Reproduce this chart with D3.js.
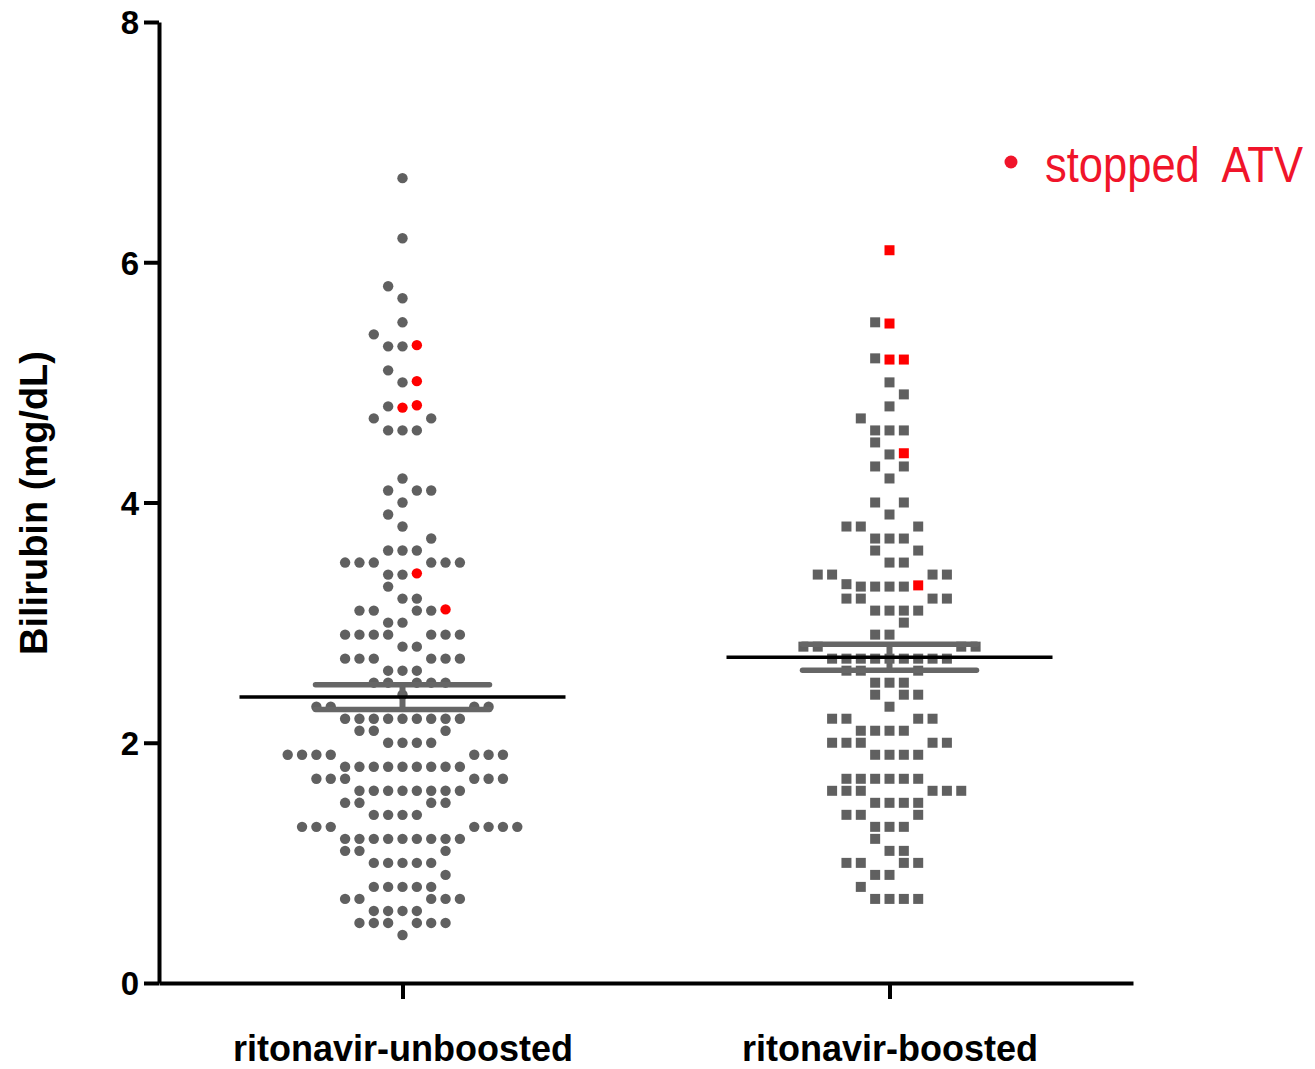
<!doctype HTML>
<html>
<head>
    <style>
        body { margin: 0; background: #fff; }
        text { font-family: "Liberation Sans", Arial, sans-serif; }
    </style>
    <script src="https://d3js.org/d3.v7.min.js"></script>
</head>
<body>
<script>
    // groups and bilirubin readings (mg/dL)
    var groups = ["ritonavir-unboosted", "ritonavir-boosted"];

    var unboostedValues = [
        0.4,
        0.5, 0.5, 0.5, 0.5, 0.5, 0.5,
        0.6, 0.6, 0.6, 0.6,
        0.7, 0.7, 0.7, 0.7, 0.7,
        0.8, 0.8, 0.8, 0.8, 0.8,
        0.9,
        1.0, 1.0, 1.0, 1.0, 1.0,
        1.1, 1.1, 1.1,
        1.2, 1.2, 1.2, 1.2, 1.2, 1.2, 1.2, 1.2, 1.2,
        1.3, 1.3, 1.3, 1.3, 1.3, 1.3, 1.3,
        1.4, 1.4, 1.4, 1.4,
        1.5, 1.5, 1.5, 1.5,
        1.6, 1.6, 1.6, 1.6, 1.6, 1.6, 1.6, 1.6,
        1.7, 1.7, 1.7, 1.7, 1.7, 1.7,
        1.8, 1.8, 1.8, 1.8, 1.8, 1.8, 1.8, 1.8, 1.8,
        1.9, 1.9, 1.9, 1.9, 1.9, 1.9, 1.9,
        2.0, 2.0, 2.0, 2.0,
        2.1, 2.1, 2.1,
        2.2, 2.2, 2.2, 2.2, 2.2, 2.2, 2.2, 2.2, 2.2,
        2.3, 2.3, 2.3, 2.3,
        2.4,
        2.5, 2.5, 2.5, 2.5, 2.5,
        2.6, 2.6, 2.6,
        2.7, 2.7, 2.7, 2.7, 2.7, 2.7,
        2.8, 2.8,
        2.9, 2.9, 2.9, 2.9, 2.9, 2.9, 2.9,
        3.0, 3.0,
        3.1, 3.1, 3.1, 3.1,
        3.2, 3.2,
        3.3,
        3.4, 3.4,
        3.5, 3.5, 3.5, 3.5, 3.5, 3.5,
        3.6, 3.6, 3.6,
        3.7, 3.8, 3.9, 4.0,
        4.1, 4.1, 4.1,
        4.2,
        4.6, 4.6, 4.6,
        4.7, 4.7,
        4.8,
        5.0, 5.1,
        5.3, 5.3,
        5.4, 5.5, 5.7, 5.8, 6.2, 6.7
    ];
    var unboostedStopped = [3.11, 3.41, 4.79, 4.81, 5.01, 5.31];

    var boostedValues = [
        0.7, 0.7, 0.7, 0.7,
        0.8,
        0.9, 0.9,
        1.0, 1.0, 1.0, 1.0,
        1.1, 1.1,
        1.2,
        1.3, 1.3, 1.3,
        1.4, 1.4, 1.4,
        1.5, 1.5, 1.5, 1.5,
        1.6, 1.6, 1.6, 1.6, 1.6, 1.6,
        1.7, 1.7, 1.7, 1.7, 1.7, 1.7,
        1.9, 1.9, 1.9, 1.9,
        2.0, 2.0, 2.0, 2.0, 2.0,
        2.1, 2.1, 2.1, 2.1,
        2.2, 2.2, 2.2, 2.2,
        2.3,
        2.4, 2.4, 2.4,
        2.5, 2.5, 2.5,
        2.6, 2.6, 2.6,
        2.7, 2.7, 2.7, 2.7, 2.7, 2.7, 2.7, 2.7, 2.7,
        2.8, 2.8, 2.8, 2.8,
        2.9, 2.9,
        3.0,
        3.1, 3.1, 3.1, 3.1,
        3.2, 3.2, 3.2, 3.2,
        3.3, 3.3, 3.3, 3.3, 3.32,
        3.4, 3.4, 3.4, 3.4,
        3.5, 3.5,
        3.6, 3.6,
        3.7, 3.7, 3.7,
        3.8, 3.8, 3.8,
        3.9,
        4.0, 4.0,
        4.2,
        4.3, 4.3,
        4.4, 4.5,
        4.6, 4.6, 4.6,
        4.7, 4.8, 4.9, 5.0,
        5.2, 5.5
    ];
    var boostedStopped = [3.31, 4.41, 5.19, 5.19, 5.49, 6.1];

    var yTicks = [0, 2, 4, 6, 8];
    var legendLabel = "stopped  ATV";

    var canvasWidth = 1315;
    var canvasHeight = 1069;
    var gray = "#606060";
    var red = "#ff0000";
    var colStep = 14.35;

    var svg = d3.select("body").append("svg")
        .attr("width", canvasWidth)
        .attr("height", canvasHeight);

    var xScale = d3.scalePoint().domain(groups).range([159, 1133]).padding(0.5);
    var yScale = d3.scaleLinear().domain([0, 8]).range([983, 22]);

    // Prism-like column scatter: rows grouped in 0.2 bins, points fanned out from the centre
    function layout(values, stopped, group) {
        var pts = values.map(function(v) { return {v: v, stopped: false}; })
            .concat(stopped.map(function(v) { return {v: v, stopped: true}; }));
        pts.sort(function(a, b) { return a.v - b.v; });
        var out = [];
        var i = 0, bin = 0;
        while (i < pts.length) {
            var start = Math.round(pts[i].v * 10);
            var members = [];
            while (i < pts.length && Math.round(pts[i].v * 10) < start + 2) {
                members.push(pts[i]);
                i++;
            }
            var dir = bin % 2 === 0 ? 1 : -1;
            members.forEach(function(p, j) {
                var m = Math.ceil(j / 2);
                var k = j === 0 ? 0 : (j % 2 === 1 ? dir * m : -dir * m);
                out.push({v: p.v, stopped: p.stopped, group: group, k: k});
            });
            bin++;
        }
        return out;
    }

    var series = [
        {group: groups[0], values: unboostedValues.concat(unboostedStopped), pts: layout(unboostedValues, unboostedStopped, groups[0])},
        {group: groups[1], values: boostedValues.concat(boostedStopped), pts: layout(boostedValues, boostedStopped, groups[1])}
    ];

    // points
    svg.append("g").selectAll("circle")
        .data(series[0].pts)
        .enter().append("circle")
        .attr("cx", function(d) { return xScale(d.group) + d.k * colStep; })
        .attr("cy", function(d) { return yScale(d.v); })
        .attr("r", 5.2)
        .attr("fill", function(d) { return d.stopped ? red : gray; });

    svg.append("g").selectAll("rect")
        .data(series[1].pts)
        .enter().append("rect")
        .attr("x", function(d) { return xScale(d.group) + d.k * colStep - 5; })
        .attr("y", function(d) { return yScale(d.v) - 5; })
        .attr("width", 10)
        .attr("height", 10)
        .attr("fill", function(d) { return d.stopped ? red : gray; });

    // mean and SEM
    series.forEach(function(s) {
        var mean = d3.mean(s.values);
        var sem = d3.deviation(s.values) / Math.sqrt(s.values.length);
        var cx = xScale(s.group);
        var g = svg.append("g");
        g.append("line")
            .attr("x1", cx).attr("x2", cx)
            .attr("y1", yScale(mean - sem)).attr("y2", yScale(mean + sem))
            .attr("stroke", "#666").attr("stroke-width", 6);
        [mean - sem, mean + sem].forEach(function(v) {
            g.append("line")
                .attr("x1", cx - 87).attr("x2", cx + 87)
                .attr("y1", yScale(v)).attr("y2", yScale(v))
                .attr("stroke", "#666").attr("stroke-width", 5.5)
                .attr("stroke-linecap", "round");
        });
        g.append("line")
            .attr("x1", cx - 163).attr("x2", cx + 163)
            .attr("y1", yScale(mean)).attr("y2", yScale(mean))
            .attr("stroke", "#000").attr("stroke-width", 3.5);
    });

    // axes
    var yAxis = svg.append("g")
        .attr("transform", "translate(159,0)")
        .call(d3.axisLeft(yScale).tickValues(yTicks).tickSize(15).tickSizeOuter(0).tickPadding(5));
    var xAxis = svg.append("g")
        .attr("transform", "translate(0,983)")
        .call(d3.axisBottom(xScale).tickSize(16).tickSizeOuter(0).tickPadding(36));

    [yAxis, xAxis].forEach(function(ax) {
        ax.attr("font-family", null).attr("font-size", null);
        ax.selectAll("path, line").attr("stroke", "#000").attr("stroke-width", 4);
        ax.selectAll("text")
            .attr("fill", "#000")
            .style("font-weight", "bold")
            .style("font-family", "'Liberation Sans', Arial, sans-serif");
    });
    yAxis.selectAll("text").style("font-size", "33px").attr("dy", "0.36em");
    xAxis.selectAll("text").style("font-size", "36px");

    // y axis title
    svg.append("text")
        .attr("transform", "translate(47,503) rotate(-90)")
        .attr("text-anchor", "middle")
        .style("font-size", "38px")
        .style("font-weight", "bold")
        .text("Bilirubin (mg/dL)");

    // legend (narrow lettering, squeezed horizontally)
    svg.append("circle")
        .attr("cx", 1011)
        .attr("cy", 162)
        .attr("r", 6.5)
        .attr("fill", "#f0142a");
    var legendText = svg.append("text")
        .style("font-size", "50px")
        .style("white-space", "pre")
        .attr("fill", "#f0142a")
        .text(legendLabel);
    var natural = legendText.node().getComputedTextLength();
    legendText.attr("transform", "translate(1045,182) scale(" + (258 / natural) + ",1)");
</script>
</body>
</html>
